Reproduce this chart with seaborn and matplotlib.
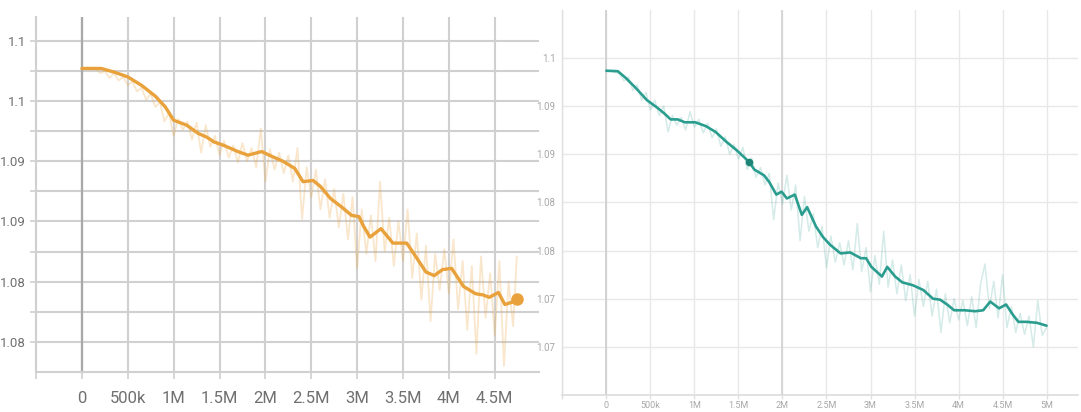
import matplotlib
matplotlib.use("Agg")
import matplotlib.pyplot as plt
import pandas as pd
import seaborn as sns
from matplotlib.ticker import FixedLocator

# ---------------- left run (orange) : steps in millions, loss ----------------
orange_smooth_steps = [0.00, 0.21, 0.35, 0.50, 0.65, 0.80, 0.91, 1.00, 1.14, 1.27,
                       1.36, 1.44, 1.55, 1.70, 1.81, 1.96, 2.07, 2.19, 2.32, 2.41,
                       2.52, 2.60, 2.71, 2.83, 2.94, 3.02, 3.07, 3.14, 3.26, 3.39,
                       3.54, 3.62, 3.75, 3.84, 3.93, 4.03, 4.16, 4.29, 4.37, 4.44,
                       4.54, 4.61, 4.69, 4.74]
orange_smooth = [1.1022, 1.1022, 1.1019, 1.1015, 1.1008, 1.0999, 1.0990, 1.0979, 1.0975, 1.0968,
                 1.0965, 1.0961, 1.0958, 1.0953, 1.0950, 1.0953, 1.0949, 1.0945, 1.0939, 1.0928,
                 1.0929, 1.0924, 1.0914, 1.0907, 1.0900, 1.0899, 1.0891, 1.0882, 1.0889, 1.0877,
                 1.0877, 1.0868, 1.0853, 1.0850, 1.0855, 1.0856, 1.0841, 1.0835, 1.0834, 1.0832,
                 1.0836, 1.0826, 1.0828, 1.0831]

orange_raw_steps = [0.00, 0.05, 0.10, 0.15, 0.20, 0.25, 0.30, 0.35, 0.40, 0.45,
                    0.50, 0.55, 0.60, 0.65, 0.70, 0.75, 0.80, 0.85, 0.90, 0.95,
                    1.00, 1.05, 1.10, 1.15, 1.20, 1.25, 1.30, 1.35, 1.40, 1.45,
                    1.50, 1.55, 1.60, 1.65, 1.70, 1.75, 1.80, 1.85, 1.90, 1.95,
                    2.00, 2.05, 2.10, 2.15, 2.20, 2.25, 2.30, 2.35, 2.40, 2.45,
                    2.50, 2.55, 2.60, 2.65, 2.70, 2.75, 2.80, 2.85, 2.90, 2.95,
                    3.00, 3.05, 3.10, 3.15, 3.20, 3.25, 3.30, 3.35, 3.40, 3.45,
                    3.50, 3.55, 3.60, 3.65, 3.70, 3.75, 3.80, 3.85, 3.90, 3.95,
                    4.00, 4.05, 4.10, 4.15, 4.20, 4.25, 4.30, 4.35, 4.40, 4.45,
                    4.50, 4.55, 4.60, 4.65, 4.70, 4.74]
orange_raw = [1.1022, 1.1022, 1.1021, 1.1022, 1.1018, 1.1020, 1.1014, 1.1018, 1.1012, 1.1015,
              1.1008, 1.1011, 1.1003, 1.1006, 1.0996, 1.1001, 1.0990, 1.0994, 1.0978, 1.0985,
              1.0966, 1.0980, 1.0971, 1.0978, 1.0963, 1.0977, 1.0952, 1.0975, 1.0957, 1.0966,
              1.0950, 1.0962, 1.0948, 1.0958, 1.0944, 1.0960, 1.0945, 1.0956, 1.0940, 1.0972,
              1.0928, 1.0955, 1.0938, 1.0952, 1.0935, 1.0950, 1.0928, 1.0956, 1.0897, 1.0940,
              1.0915, 1.0938, 1.0905, 1.0930, 1.0898, 1.0922, 1.0890, 1.0918, 1.0880, 1.0915,
              1.0856, 1.0905, 1.0868, 1.0900, 1.0862, 1.0928, 1.0870, 1.0898, 1.0858, 1.0895,
              1.0862, 1.0905, 1.0848, 1.0885, 1.0830, 1.0875, 1.0812, 1.0868, 1.0838, 1.0872,
              1.0835, 1.0880, 1.0822, 1.0862, 1.0805, 1.0858, 1.0785, 1.0866, 1.0815, 1.0852,
              1.0800, 1.0862, 1.0775, 1.0845, 1.0808, 1.0866]

# ---------------- right run (teal) ----------------
teal_smooth_steps = [0.00, 0.13, 0.22, 0.34, 0.46, 0.58, 0.66, 0.73, 0.81, 0.89,
                     1.01, 1.13, 1.24, 1.36, 1.48, 1.62, 1.68, 1.79, 1.85, 1.93,
                     1.99, 2.05, 2.14, 2.22, 2.28, 2.38, 2.46, 2.54, 2.66, 2.77,
                     2.89, 2.95, 3.01, 3.13, 3.19, 3.28, 3.36, 3.48, 3.60, 3.71,
                     3.79, 3.87, 3.95, 4.07, 4.19, 4.28, 4.36, 4.46, 4.54, 4.62,
                     4.68, 4.77, 4.89, 5.00]
teal_smooth = [1.09665, 1.0966, 1.0959, 1.0948, 1.0936, 1.0928, 1.0922, 1.0916, 1.0916, 1.0913,
               1.0913, 1.0909, 1.0903, 1.0893, 1.0884, 1.0872, 1.0864, 1.0858, 1.0851, 1.0838,
               1.0841, 1.0834, 1.0838, 1.0817, 1.0825, 1.0805, 1.0794, 1.0786, 1.0777, 1.0778,
               1.0772, 1.0772, 1.0763, 1.0753, 1.0763, 1.0753, 1.0747, 1.0744, 1.0739, 1.0730,
               1.0729, 1.0724, 1.0718, 1.0718, 1.0717, 1.0718, 1.0727, 1.0720, 1.0724, 1.0713,
               1.0706, 1.0706, 1.0705, 1.0702]
teal_highlight_step = 1.62

teal_raw_steps = [0.00, 0.05, 0.10, 0.15, 0.20, 0.25, 0.30, 0.35, 0.40, 0.45,
                  0.50, 0.55, 0.60, 0.65, 0.70, 0.75, 0.80, 0.85, 0.90, 0.95,
                  1.00, 1.05, 1.10, 1.15, 1.20, 1.25, 1.30, 1.35, 1.40, 1.45,
                  1.50, 1.55, 1.60, 1.65, 1.70, 1.75, 1.80, 1.85, 1.90, 1.95,
                  2.00, 2.05, 2.10, 2.15, 2.20, 2.25, 2.30, 2.35, 2.40, 2.45,
                  2.50, 2.55, 2.60, 2.65, 2.70, 2.75, 2.80, 2.85, 2.90, 2.95,
                  3.00, 3.05, 3.10, 3.15, 3.20, 3.25, 3.30, 3.35, 3.40, 3.45,
                  3.50, 3.55, 3.60, 3.65, 3.70, 3.75, 3.80, 3.85, 3.90, 3.95,
                  4.00, 4.05, 4.10, 4.15, 4.20, 4.25, 4.30, 4.35, 4.40, 4.45,
                  4.50, 4.55, 4.60, 4.65, 4.70, 4.75, 4.80, 4.85, 4.90, 4.95,
                  5.00]
teal_raw = [1.0966, 1.0966, 1.0965, 1.0963, 1.0956, 1.0960, 1.0946, 1.0952, 1.0936, 1.0944,
            1.0926, 1.0936, 1.0920, 1.0930, 1.0903, 1.0920, 1.0910, 1.0918, 1.0905, 1.0924,
            1.0908, 1.0916, 1.0902, 1.0912, 1.0897, 1.0906, 1.0888, 1.0898, 1.0880, 1.0890,
            1.0875, 1.0887, 1.0864, 1.0876, 1.0856, 1.0866, 1.0848, 1.0860, 1.0812, 1.0850,
            1.0828, 1.0858, 1.0822, 1.0848, 1.0790, 1.0836, 1.0800, 1.0818, 1.0783, 1.0805,
            1.0762, 1.0795, 1.0768, 1.0788, 1.0765, 1.0790, 1.0760, 1.0808, 1.0758, 1.0783,
            1.0737, 1.0775, 1.0745, 1.0800, 1.0742, 1.0770, 1.0735, 1.0765, 1.0728, 1.0755,
            1.0712, 1.0750, 1.0722, 1.0748, 1.0712, 1.0740, 1.0695, 1.0735, 1.0705, 1.0730,
            1.0708, 1.0728, 1.0702, 1.0732, 1.0700, 1.0745, 1.0766, 1.0720, 1.0748, 1.0710,
            1.0755, 1.0700, 1.0722, 1.0695, 1.0715, 1.0693, 1.0712, 1.0680, 1.0728, 1.0692,
            1.0700]

# ---------------- axis ticks ----------------
left_xticks = [-0.5, 0.0, 0.5, 1.0, 1.5, 2.0, 2.5, 3.0, 3.5, 4.0, 4.5]
left_xtick_labels = ["", "0", "500k", "1M", "1.5M", "2M", "2.5M", "3M", "3.5M", "4M", "4.5M"]
left_yticks = [1.1045, 1.0995, 1.0945, 1.0895, 1.0845, 1.0795]
left_ytick_labels = ["1.1", "1.1", "1.09", "1.09", "1.08", "1.08"]
left_yminor = [1.1020, 1.0970, 1.0920, 1.0870, 1.0820]

right_xticks = [-0.5, 0.0, 0.5, 1.0, 1.5, 2.0, 2.5, 3.0, 3.5, 4.0, 4.5, 5.0]
right_xtick_labels = ["", "0", "500k", "1M", "1.5M", "2M", "2.5M", "3M", "3.5M", "4M", "4.5M", "5M"]
right_yticks = [1.098, 1.093, 1.088, 1.083, 1.078, 1.073, 1.068]
right_ytick_labels = ["1.1", "1.09", "1.09", "1.08", "1.08", "1.07", "1.07"]

ORANGE = "#E9A23B"
TEAL = "#2A9D8F"

sns.set_theme(style="white")
plt.rcParams["font.family"] = ["Roboto", "DejaVu Sans"]

fig = plt.figure(figsize=(10.81, 4.12), dpi=100)
W, H = 1081.0, 412.0
ax1 = fig.add_axes([36 / W, 40 / H, 503 / W, 355 / H])
ax2 = fig.add_axes([562.4 / W, 17 / H, 515.6 / W, 385 / H])

# ---- left panel ----
df_o_raw = pd.DataFrame({"step": orange_raw_steps, "loss": orange_raw})
df_o_smooth = pd.DataFrame({"step": orange_smooth_steps, "loss": orange_smooth})
sns.lineplot(data=df_o_raw, x="step", y="loss", ax=ax1, color=ORANGE, alpha=0.26,
             linewidth=1.3, estimator=None, sort=False, zorder=3)
sns.lineplot(data=df_o_smooth, x="step", y="loss", ax=ax1, color=ORANGE,
             linewidth=2.4, estimator=None, sort=False, zorder=4)
ax1.plot(df_o_smooth["step"].iloc[-1], df_o_smooth["loss"].iloc[-1], "o",
         color=ORANGE, markersize=8, zorder=5)

ax1.set_xlim(-0.5, 4.982)
ax1.set_ylim(1.077, 1.10647)
ax1.xaxis.set_major_locator(FixedLocator(left_xticks))
ax1.set_xticklabels(left_xtick_labels)
ax1.yaxis.set_major_locator(FixedLocator(left_yticks))
ax1.set_yticklabels(left_ytick_labels)
ax1.yaxis.set_minor_locator(FixedLocator(left_yminor))
ax1.grid(True, which="both", color="#d0d0d0", linewidth=1.5)
ax1.axvline(0, color="#a8a8a8", linewidth=1.6, zorder=2)
ax1.tick_params(axis="x", which="major", length=5, width=1.2, color="#d0d0d0",
                pad=9, labelsize=12, labelcolor="#707070", direction="out", bottom=True)
ax1.tick_params(axis="y", which="both", length=4, width=1.2, color="#d0d0d0",
                pad=3, labelsize=9.5, labelcolor="#707070", direction="out", left=True)
for name in ("top", "right"):
    ax1.spines[name].set_visible(False)
for name in ("left", "bottom"):
    ax1.spines[name].set_color("#d0d0d0")
    ax1.spines[name].set_linewidth(1.5)
ax1.set_xlabel("")
ax1.set_ylabel("")

# ---- right panel ----
df_t_raw = pd.DataFrame({"step": teal_raw_steps, "loss": teal_raw})
df_t_smooth = pd.DataFrame({"step": teal_smooth_steps, "loss": teal_smooth})
sns.lineplot(data=df_t_raw, x="step", y="loss", ax=ax2, color=TEAL, alpha=0.2,
             linewidth=1.1, estimator=None, sort=False, zorder=3)
sns.lineplot(data=df_t_smooth, x="step", y="loss", ax=ax2, color=TEAL,
             linewidth=1.9, estimator=None, sort=False, zorder=4)
hl = df_t_smooth[df_t_smooth["step"] == teal_highlight_step]
ax2.plot(hl["step"], hl["loss"], "o", color="#1E8476", markersize=4.5, zorder=5)

ax2.set_xlim(-0.5, 5.357)
ax2.set_ylim(1.06301, 1.10295)
ax2.xaxis.set_major_locator(FixedLocator(right_xticks))
ax2.set_xticklabels(right_xtick_labels)
ax2.yaxis.set_major_locator(FixedLocator(right_yticks))
ax2.set_yticklabels(right_ytick_labels)
ax2.grid(True, which="major", color="#e8e8e8", linewidth=1.0)
ax2.axvline(0, color="#cdcdcd", linewidth=1.2, zorder=2)
ax2.axvline(2.0, color="#d2d2d2", linewidth=1.2, zorder=2)
ax2.tick_params(axis="x", length=3, width=1.0, color="#e0e0e0", pad=1.5,
                labelsize=6.5, labelcolor="#a8a8a8", direction="out", bottom=True)
ax2.tick_params(axis="y", length=0, pad=5, labelsize=7, labelcolor="#a8a8a8")
for name in ("top", "right"):
    ax2.spines[name].set_visible(False)
ax2.spines["left"].set_color("#e0e0e0")
ax2.spines["bottom"].set_color("#dcdcdc")
ax2.spines["left"].set_linewidth(1.0)
ax2.spines["bottom"].set_linewidth(1.2)
ax2.set_xlabel("")
ax2.set_ylabel("")

fig.savefig("out.png", dpi=100, facecolor="white")
